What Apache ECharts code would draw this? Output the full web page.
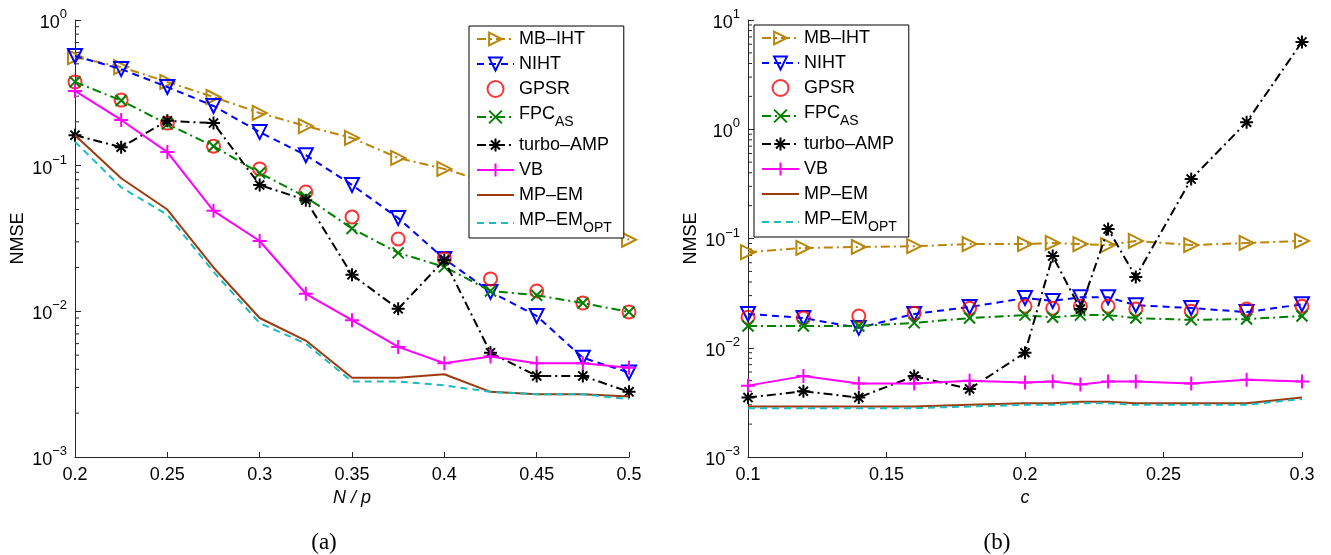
<!DOCTYPE html>
<html>
<head>
<meta charset="utf-8">
<script src="https://cdn.jsdelivr.net/npm/echarts@6/dist/echarts.min.js"></script>
<style>
html,body{margin:0;padding:0;background:#fff;}
#chart{width:1331px;height:555px;}
</style>
</head>
<body>
<div id="chart"></div>
<script>
// ---------- data: panel (a) ----------
const xA = [0.2, 0.225, 0.25, 0.275, 0.3, 0.325, 0.35, 0.375, 0.4, 0.425, 0.45, 0.475, 0.5];
const mbihtA  = [0.557, 0.475, 0.376, 0.296, 0.230, 0.187, 0.155, 0.113, 0.095, 0.076, 0.060, 0.045, 0.031];
const nihtA   = [0.566, 0.460, 0.347, 0.257, 0.170, 0.118, 0.0737, 0.0437, 0.0229, 0.0136, 0.0093, 0.0048, 0.0038];
const gpsrA   = [0.376, 0.282, 0.196, 0.136, 0.095, 0.066, 0.0445, 0.0314, 0.0229, 0.0167, 0.0138, 0.0114, 0.0099];
const fpcA    = [0.376, 0.280, 0.193, 0.136, 0.089, 0.061, 0.037, 0.0252, 0.0202, 0.0138, 0.0129, 0.0114, 0.0099];
const turboA  = [0.162, 0.134, 0.203, 0.196, 0.0737, 0.058, 0.0178, 0.0104, 0.0225, 0.0052, 0.0036, 0.0036, 0.0028];
const vbA     = [0.326, 0.206, 0.124, 0.049, 0.0304, 0.0132, 0.0087, 0.0057, 0.0044, 0.0049, 0.0044, 0.0044, 0.0041];
const mpemA   = [0.162, 0.082, 0.050, 0.020, 0.0090, 0.0063, 0.0035, 0.0035, 0.0037, 0.0028, 0.0027, 0.0027, 0.0026];
const mpemOptA= [0.146, 0.071, 0.046, 0.0187, 0.0083, 0.0060, 0.0033, 0.0033, 0.0031, 0.0028, 0.0027, 0.0027, 0.0025];

// ---------- data: panel (b) ----------
const xB = [0.1, 0.12, 0.14, 0.16, 0.18, 0.2, 0.21, 0.22, 0.23, 0.24, 0.26, 0.28, 0.3];
const mbihtB  = [0.075, 0.082, 0.0836, 0.085, 0.089, 0.089, 0.091, 0.089, 0.087, 0.095, 0.087, 0.091, 0.095];
const nihtB   = [0.0204, 0.0187, 0.0152, 0.0204, 0.0236, 0.0285, 0.0268, 0.029, 0.029, 0.0245, 0.0231, 0.0212, 0.025];
const gpsrB   = [0.019, 0.0187, 0.0195, 0.0207, 0.023, 0.024, 0.023, 0.024, 0.024, 0.0226, 0.0216, 0.0226, 0.024];
const fpcB    = [0.0158, 0.0158, 0.0158, 0.0169, 0.0187, 0.0199, 0.019, 0.0199, 0.0199, 0.0187, 0.018, 0.0183, 0.0195];
const turboB  = [0.0035, 0.0040, 0.0035, 0.0055, 0.0042, 0.0090, 0.069, 0.0226, 0.122, 0.0445, 0.35, 1.16, 6.3];
const vbB     = [0.0045, 0.0055, 0.0047, 0.0047, 0.0050, 0.0048, 0.0049, 0.0046, 0.0049, 0.0049, 0.0047, 0.0051, 0.0049];
const mpemB   = [0.0029, 0.0029, 0.0029, 0.0029, 0.0030, 0.0031, 0.0031, 0.0032, 0.0032, 0.0031, 0.0031, 0.0031, 0.0035];
const mpemOptB= [0.0028, 0.0028, 0.0028, 0.0028, 0.0029, 0.0030, 0.0030, 0.0031, 0.0031, 0.0030, 0.0030, 0.0030, 0.0034];

const seriesNames = ['MB–IHT', 'NIHT', 'GPSR', 'FPC_AS', 'turbo–AMP', 'VB', 'MP–EM', 'MP–EM_OPT'];
const yTicksMinorA = [-3, -2, -1];      // decades with minor ticks, panel (a)
const yTicksMinorB = [-3, -2, -1, 0];   // panel (b)

const FONT = 'Liberation Sans, Arial, Helvetica, sans-serif';
const AXIS_COLOR = '#262626';

const SYM = {
  triRight: 'path://M0,0 L10,5 L0,10 Z',
  triDown: 'path://M0,0 L10,0 L5,9 Z',
  cross: 'path://M0,0 L10,10 M0,10 L10,0',
  plus: 'path://M5,0 L5,10 M0,5 L10,5',
  star: 'path://M5,0 L5,10 M0,5 L10,5 M1.5,1.5 L8.5,8.5 M1.5,8.5 L8.5,1.5'
};
const DASHDOT = [9, 4, 2, 4];
const DASHED = [7, 5];

const styles = [
  {color: '#B8860B', symbol: SYM.triRight, size: 14, line: DASHDOT},
  {color: '#0000FF', symbol: SYM.triDown, size: 14, line: DASHED},
  {color: '#FF0000', symbol: 'circle', size: 13, line: null},
  {color: '#008000', symbol: SYM.cross, size: 11, line: DASHDOT},
  {color: '#000000', symbol: SYM.star, size: 13, line: DASHDOT},
  {color: '#FF00FF', symbol: SYM.plus, size: 14, line: 'solid'},
  {color: '#9E3A0E', symbol: 'none', size: 0, line: 'solid'},
  {color: '#1CBCBC', symbol: 'none', size: 0, line: DASHED}
];

function pairs(xs, ys) { return xs.map((x, i) => [x, ys[i]]); }

function makeSeries(idx, dataY, xs) {
  const out = [];
  dataY.forEach((ys, i) => {
    const st = styles[i];
    const s = {
      name: seriesNames[i],
      xAxisIndex: idx, yAxisIndex: idx,
      data: pairs(xs, ys),
      symbol: st.symbol,
      symbolSize: st.size,
      silent: true,
      animation: false,
      z: 3 + i * 0.01,
      itemStyle: {color: 'rgba(0,0,0,0)', borderColor: st.color, borderWidth: 2}
    };
    if (st.line === null) {
      s.type = 'scatter';
    } else {
      s.type = 'line';
      s.lineStyle = {color: st.color, width: 2, type: st.line};
      if (st.symbol === 'none') {
        s.showSymbol = false;
        s.itemStyle = {color: 'rgba(0,0,0,0)', borderColor: 'rgba(0,0,0,0)', borderWidth: 0};
      }
    }
    out.push(s);
  });
  return out;
}

function minorTickSeries(idx, decades, xMin) {
  const vals = [];
  decades.forEach(k => { for (let m = 2; m <= 9; m++) vals.push([xMin, m * Math.pow(10, k)]); });
  return {
    type: 'custom', xAxisIndex: idx, yAxisIndex: idx, silent: true, animation: false, z: 1,
    data: vals,
    renderItem: function (params, api) {
      const p = api.coord([api.value(0), api.value(1)]);
      return {type: 'line', shape: {x1: p[0], y1: p[1], x2: p[0] + 4, y2: p[1]},
              style: {stroke: AXIS_COLOR, lineWidth: 1}};
    }
  };
}

function yLabel(v) {
  const e = Math.round(Math.log10(v));
  const es = e < 0 ? '−' + (-e) : String(e);
  return '{b|10}{e|' + es + '}';
}

function legendFmt(name) {
  const i = name.indexOf('_');
  if (i < 0) return '{p|' + name + '}';
  return '{n|' + name.slice(0, i) + '}{s|' + name.slice(i + 1) + '}';
}

function legendCfg(left, top) {
  return {
    left: left, top: top, orient: 'vertical',
    data: seriesNames, selectedMode: false,
    backgroundColor: '#fff', borderColor: '#000', borderWidth: 1,
    padding: [4, 12, 3, 7], itemGap: 7, itemWidth: 37, itemHeight: 16,
    formatter: legendFmt,
    textStyle: {
      fontFamily: FONT, fontSize: 18, color: '#000',
      rich: {
        p: {fontFamily: FONT, fontSize: 18, lineHeight: 18, color: '#000'},
        n: {fontFamily: FONT, fontSize: 18, lineHeight: 18, padding: [0, 0, 6, 0], color: '#000'},
        s: {fontFamily: FONT, fontSize: 14, lineHeight: 14, padding: [10, 0, 0, 0], color: '#000'}
      }
    }
  };
}

function xAxisCfg(idx, min, max, name) {
  return {
    type: 'value', gridIndex: idx, min: min, max: max, interval: 0.05,
    name: name, nameLocation: 'middle', nameGap: 30,
    nameTextStyle: {fontFamily: FONT, fontSize: 18, fontStyle: 'italic', color: '#000'},
    axisLine: {show: true, lineStyle: {color: AXIS_COLOR, width: 1}},
    axisTick: {show: true, inside: true, length: 5, lineStyle: {color: AXIS_COLOR}},
    axisLabel: {fontFamily: FONT, fontSize: 18, color: '#000', margin: 9},
    splitLine: {show: false}
  };
}

function yAxisCfg(idx, min, max) {
  return {
    type: 'log', logBase: 10, gridIndex: idx, min: min, max: max,
    name: 'NMSE', nameLocation: 'middle', nameGap: 48, nameRotate: 90,
    nameTextStyle: {fontFamily: FONT, fontSize: 18, color: '#000'},
    axisLine: {show: true, lineStyle: {color: AXIS_COLOR, width: 1}},
    axisTick: {show: true, inside: true, length: 6, lineStyle: {color: AXIS_COLOR}},
    axisLabel: {
      formatter: yLabel, margin: 8, color: '#000',
      rich: {
        b: {fontFamily: FONT, fontSize: 18, lineHeight: 24, verticalAlign: 'bottom', color: '#000'},
        e: {fontFamily: FONT, fontSize: 13, lineHeight: 13, verticalAlign: 'top', color: '#000'}
      }
    },
    splitLine: {show: false}
  };
}

const CAP_FONT = '23px "Liberation Serif", "Times New Roman", serif';

const chart = echarts.init(document.getElementById('chart'), null, {renderer: 'canvas'});
chart.setOption({
  backgroundColor: '#fff',
  animation: false,
  grid: [
    {left: 75, top: 20, width: 554, height: 437},
    {left: 748, top: 20, width: 554, height: 437}
  ],
  xAxis: [xAxisCfg(0, 0.2, 0.5, 'N / p'), xAxisCfg(1, 0.1, 0.3, 'c')],
  yAxis: [yAxisCfg(0, 0.001, 1), yAxisCfg(1, 0.001, 10)],
  legend: [legendCfg(469, 26), legendCfg(754, 25)],
  graphic: [
    {type: 'text', x: 324, y: 543, style: {text: '(a)', font: CAP_FONT, fill: '#000', align: 'center', verticalAlign: 'middle'}},
    {type: 'text', x: 997, y: 543, style: {text: '(b)', font: CAP_FONT, fill: '#000', align: 'center', verticalAlign: 'middle'}}
  ],
  series: [].concat(
    makeSeries(0, [mbihtA, nihtA, gpsrA, fpcA, turboA, vbA, mpemA, mpemOptA], xA),
    makeSeries(1, [mbihtB, nihtB, gpsrB, fpcB, turboB, vbB, mpemB, mpemOptB], xB),
    [minorTickSeries(0, yTicksMinorA, 0.2), minorTickSeries(1, yTicksMinorB, 0.1)]
  )
});
</script>
</body>
</html>
